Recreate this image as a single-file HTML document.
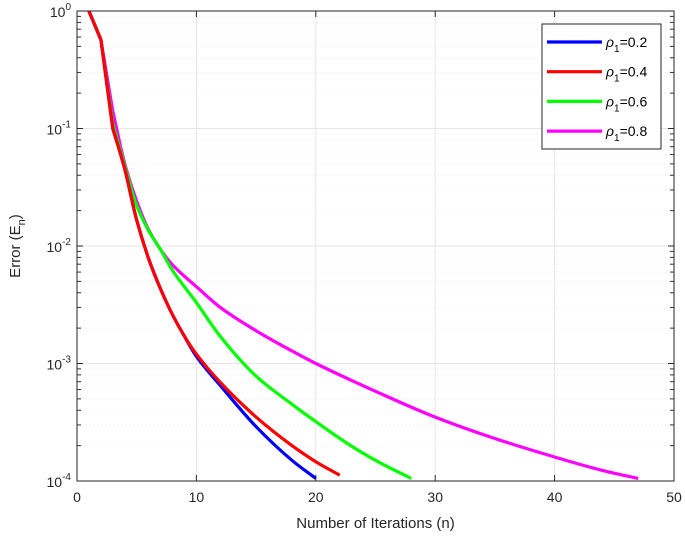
<!DOCTYPE html>
<html><head><meta charset="utf-8"><style>
html,body{margin:0;padding:0;background:#fff;}
svg{display:block;font-family:"Liberation Sans",sans-serif;}
</style></head><body>
<svg id="chart" width="685" height="542"></svg>
<script>
const seriesNames = ["0.2","0.4","0.6","0.8"];
const seriesColors = ["#0000ff","#ff0000","#00ff00","#ff00ff"];
const nBlue = [1,2,3,4,5,6,7,8,9,10,12,15,18,20];
const eBlue = [1,0.57,0.1,0.045,0.0166,0.0078,0.0043,0.0026,0.0017,0.00115,0.00065,0.00029,0.00015,0.000105];
const nRed = [1,2,3,4,5,6,7,8,9,10,12,15,18,20,22];
const eRed = [1,0.57,0.1,0.045,0.0166,0.0078,0.0043,0.0026,0.0017,0.0012,0.00069,0.00035,0.0002,0.000146,0.000112];
const nGreen = [1,2,3,4,5,6,7,8,10,12,15,18,20,22.6,25,28];
const eGreen = [1,0.57,0.11,0.048,0.022,0.0135,0.0093,0.0062,0.0033,0.0017,0.00078,0.00045,0.00032,0.00021,0.00015,0.000105];
const nMag = [1,2,3,4,5,6,7,8,10,12,15,18,20,25,30,35,40,44,47];
const eMag = [1,0.57,0.14,0.05,0.024,0.0137,0.0093,0.0069,0.0045,0.003,0.0019,0.00128,0.001,0.00058,0.00035,0.00023,0.00016,0.000123,0.000105];
const xTicks = [0,10,20,30,40,50];
const yTicks = [0,-1,-2,-3,-4];

const NS="http://www.w3.org/2000/svg";
const svg=document.getElementById('chart');
const L=77,R=674,T=11,B=481;
const xs=n=>L+(n/50)*(R-L);
const ys=v=>T+(-Math.log10(v)/4)*(B-T);
function mk(tag,attrs,parent){const e=document.createElementNS(NS,tag);for(const k in attrs)e.setAttribute(k,attrs[k]);(parent||svg).appendChild(e);return e;}

// straight segments for the first points, monotone cubic Hermite (in x) afterwards
function smooth(pts,straight){
  let d='M'+pts[0][0].toFixed(1)+','+pts[0][1].toFixed(1);
  const n=pts.length, sec=[], m=[];
  for(let i=0;i<n-1;i++)sec.push((pts[i+1][1]-pts[i][1])/(pts[i+1][0]-pts[i][0]));
  for(let i=0;i<n;i++){
    if(i<=straight)m.push(sec[Math.min(i,n-2)]);
    else if(i===n-1)m.push(sec[n-2]);
    else{const a=sec[i-1],b=sec[i];m.push(a*b<=0?0:2/(1/a+1/b));}
  }
  for(let i=0;i<n-1;i++){
    const p1=pts[i],p2=pts[i+1];
    if(i<straight){d+=' L'+p2[0].toFixed(1)+','+p2[1].toFixed(1);continue;}
    const dx=(p2[0]-p1[0])/3;
    d+=' C'+(p1[0]+dx).toFixed(1)+','+(p1[1]+m[i]*dx).toFixed(1)+' '+(p2[0]-dx).toFixed(1)+','+(p2[1]-m[i+1]*dx).toFixed(1)+' '+p2[0].toFixed(1)+','+p2[1].toFixed(1);
  }
  return d;
}

const grid=mk('g',{});


xTicks.forEach(t=>{if(t>0&&t<50)mk('line',{x1:xs(t),x2:xs(t),y1:T,y2:B,stroke:'#e6e6e6','stroke-width':1},grid);});
yTicks.forEach(p=>{
  if(p<0&&p>-4)mk('line',{x1:L,x2:R,y1:ys(Math.pow(10,p)),y2:ys(Math.pow(10,p)),stroke:'#e6e6e6','stroke-width':1},grid);
  if(p>-4){for(let k=2;k<=9;k++){const y=ys(k*Math.pow(10,p-1));
    mk('line',{x1:L,x2:R,y1:y,y2:y,stroke:'#e8e8e8','stroke-width':1,'stroke-dasharray':'1,3'},grid);
    mk('line',{x1:L,x2:L+4,y1:y,y2:y,stroke:'#333','stroke-width':1},grid);
    mk('line',{x1:R,x2:R-4,y1:y,y2:y,stroke:'#333','stroke-width':1},grid);}}
});

const series=[[nBlue,eBlue],[nRed,eRed],[nGreen,eGreen],[nMag,eMag]];
const order=[3,2,0,1];
order.forEach(i=>{
  const [ns,es]=series[i];
  const pts=ns.map((n,k)=>[xs(n),ys(es[k])]);
  const p=mk('path',{d:smooth(pts,2),fill:'none',stroke:seriesColors[i],'stroke-width':3.2,'stroke-linejoin':'round'});
  
  
});

const ax=mk('rect',{x:L,y:T,width:R-L,height:B-T,fill:'none',stroke:'#262626','stroke-width':1});



xTicks.forEach(t=>{
  mk('line',{x1:xs(t),x2:xs(t),y1:B,y2:B-6,stroke:'#262626'});
  mk('line',{x1:xs(t),x2:xs(t),y1:T,y2:T+6,stroke:'#262626'});
  const tx=mk('text',{x:xs(t),y:B+21,'text-anchor':'middle','font-size':14,fill:'#262626'});
  tx.textContent=t;
  
  
});
yTicks.forEach(p=>{
  const y=ys(Math.pow(10,p));
  mk('line',{x1:L,x2:L+6,y1:y,y2:y,stroke:'#262626'});
  mk('line',{x1:R,x2:R-6,y1:y,y2:y,stroke:'#262626'});
  const tx=mk('text',{x:L-6,y:y+6,'text-anchor':'end','font-size':14,fill:'#262626'});
  tx.innerHTML='10<tspan dy="-7" font-size="10">'+p+'</tspan>';
  
  
});

const xt=mk('text',{x:(L+R)/2,y:528,'text-anchor':'middle','font-size':15,fill:'#262626'});
xt.textContent='Number of Iterations (n)';


const yt=mk('text',{transform:'translate(20,246) rotate(-90)','text-anchor':'middle','font-size':15,fill:'#262626'});
yt.innerHTML='Error (E<tspan dy="5" font-size="11">n</tspan><tspan dy="-5">)</tspan>';



const lg=mk('g',{});


mk('rect',{x:542,y:24,width:119,height:125,fill:'#fff',stroke:'#262626','stroke-width':1},lg);
seriesNames.forEach((s,i)=>{
  const y=42+i*29.7;
  const ent=mk('g',{},lg);
  
  
  mk('line',{x1:547,x2:602,y1:y,y2:y,stroke:seriesColors[i],'stroke-width':3.2},ent);
  const t=mk('text',{x:606,y:y+5,'font-size':14,fill:'#000'},ent);
  t.innerHTML='<tspan font-style="italic">ρ</tspan><tspan dy="5" font-size="10">1</tspan><tspan dy="-5">='+s+'</tspan>';
});
</script>
</body></html>
